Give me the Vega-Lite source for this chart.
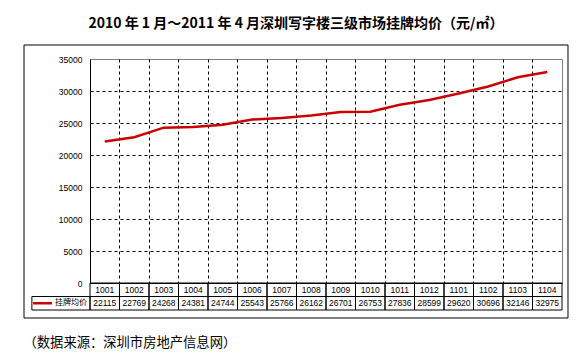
{
  "$schema": "https://vega.github.io/schema/vega-lite/v6.json",
  "padding": {"left": 23, "top": 17, "right": 0, "bottom": 0},
  "background": "#ffffff",
  "title": {
    "text": "2010 年 1 月～2011 年 4 月深圳写字楼三级市场挂牌均价（元/㎡）",
    "font": "Noto Sans CJK SC",
    "fontSize": 14,
    "fontWeight": "bold",
    "color": "#000000",
    "anchor": "middle",
    "offset": 13
  },
  "datasets": {
    "prices": [
      {"month": "1001", "price": 22115},
      {"month": "1002", "price": 22769},
      {"month": "1003", "price": 24268},
      {"month": "1004", "price": 24381},
      {"month": "1005", "price": 24744},
      {"month": "1006", "price": 25543},
      {"month": "1007", "price": 25766},
      {"month": "1008", "price": 26162},
      {"month": "1009", "price": 26701},
      {"month": "1010", "price": 26753},
      {"month": "1011", "price": 27836},
      {"month": "1012", "price": 28599},
      {"month": "1101", "price": 29620},
      {"month": "1102", "price": 30696},
      {"month": "1103", "price": 32146},
      {"month": "1104", "price": 32975}
    ],
    "legend": [{"series": "挂牌均价", "month": "1001"}]
  },
  "spacing": 0,
  "bounds": "flush",
  "resolve": {"scale": {"x": "independent", "y": "independent"}},
  "vconcat": [
    {
      "width": 472,
      "height": 224,
      "view": {"stroke": "#808080", "strokeWidth": 1},
      "encoding": {
        "x": {
          "field": "month",
          "type": "ordinal",
          "scale": {
            "domain": ["1001", "1002", "1003", "1004", "1005", "1006", "1007", "1008", "1009", "1010", "1011", "1012", "1101", "1102", "1103", "1104"],
            "paddingInner": 0,
            "paddingOuter": 0
          },
          "axis": {
            "title": null,
            "labels": false,
            "ticks": false,
            "domain": true,
            "domainColor": "#000000",
            "domainWidth": 1,
            "grid": true,
            "gridColor": "#000000",
            "gridDash": [3, 3],
            "gridWidth": 1,
            "bandPosition": 0,
            "values": ["1002", "1003", "1004", "1005", "1006", "1007", "1008", "1009", "1010", "1011", "1012", "1101", "1102", "1103", "1104"]
          }
        }
      },
      "layer": [
        {
          "data": {"name": "prices"},
          "mark": {"type": "line", "color": "#cc0000", "strokeWidth": 2.5},
          "encoding": {
            "y": {
              "field": "price",
              "type": "quantitative",
              "scale": {"domain": [0, 35000], "nice": false},
              "axis": {
                "title": null,
                "values": [0, 5000, 10000, 15000, 20000, 25000, 30000, 35000],
                "format": "d",
                "ticks": false,
                "labelPadding": 8,
                "labelFont": "Liberation Sans",
                "labelFontSize": 8.5,
                "labelColor": "#000000",
                "domainColor": "#000000",
                "domainWidth": 1,
                "grid": true,
                "gridColor": "#000000",
                "gridDash": [3, 3],
                "gridWidth": 1,
                "gridOpacity": {"condition": {"test": "datum.value == 0 || datum.value == 35000", "value": 0}, "value": 1}
              }
            }
          }
        },
        {
          "data": {"name": "legend"},
          "mark": {"type": "rect", "fill": "transparent", "stroke": "#000000", "strokeWidth": 1},
          "encoding": {
            "x": {"datum": "1001", "type": "ordinal", "bandPosition": -2.237},
            "x2": {"datum": "1104", "bandPosition": 1.203},
            "y": {
              "datum": 37187,
              "type": "quantitative",
              "scale": {"domain": [0, 35000], "nice": false},
              "axis": {
                "title": null,
                "values": [0, 5000, 10000, 15000, 20000, 25000, 30000, 35000],
                "format": "d",
                "ticks": false,
                "labelPadding": 8,
                "labelFont": "Liberation Sans",
                "labelFontSize": 8.5,
                "labelColor": "#000000",
                "domainColor": "#000000",
                "domainWidth": 1,
                "grid": true,
                "gridColor": "#000000",
                "gridDash": [3, 3],
                "gridWidth": 1,
                "gridOpacity": {"condition": {"test": "datum.value == 0 || datum.value == 35000", "value": 0}, "value": 1}
              }
            },
            "y2": {"datum": -5469}
          }
        }
      ]
    },
    {
      "width": 472,
      "height": 27,
      "view": {"stroke": null},
      "encoding": {
        "x": {
          "field": "month",
          "type": "ordinal",
          "scale": {
            "domain": ["1001", "1002", "1003", "1004", "1005", "1006", "1007", "1008", "1009", "1010", "1011", "1012", "1101", "1102", "1103", "1104"],
            "paddingInner": 0,
            "paddingOuter": 0
          },
          "axis": {
            "title": "（数据来源：深圳市房地产信息网）",
            "titleFont": "Noto Sans CJK SC",
            "titleFontSize": 13.3,
            "titleFontWeight": "normal",
            "titleColor": "#000000",
            "titleAnchor": "start",
            "titleAlign": "left",
            "titleX": -67,
            "titlePadding": 25,
            "labels": false,
            "ticks": false,
            "domain": false,
            "grid": false
          }
        }
      },
      "layer": [
        {
          "data": {"name": "prices"},
          "mark": {"type": "rect", "fill": "transparent", "stroke": "#000000", "strokeWidth": 1},
          "encoding": {
            "y": {"datum": "m", "type": "ordinal", "scale": {"domain": ["m", "v"], "paddingInner": 0, "paddingOuter": 0}, "axis": null}
          }
        },
        {
          "data": {"name": "prices"},
          "mark": {"type": "rect", "fill": "transparent", "stroke": "#000000", "strokeWidth": 1},
          "encoding": {
            "y": {"datum": "v", "type": "ordinal"}
          }
        },
        {
          "data": {"name": "prices"},
          "mark": {"type": "text", "font": "Liberation Sans", "fontSize": 8.5, "color": "#000000"},
          "encoding": {
            "y": {"datum": "m", "type": "ordinal"},
            "text": {"field": "month"}
          }
        },
        {
          "data": {"name": "prices"},
          "mark": {"type": "text", "font": "Liberation Sans", "fontSize": 8.5, "color": "#000000"},
          "encoding": {
            "y": {"datum": "v", "type": "ordinal"},
            "text": {"field": "price", "type": "quantitative", "format": "d"}
          }
        },
        {
          "data": {"name": "legend"},
          "mark": {"type": "rect", "fill": "transparent", "stroke": "#000000", "strokeWidth": 1},
          "encoding": {
            "x": {"field": "month", "type": "ordinal", "bandPosition": -1.97},
            "x2": {"field": "month", "bandPosition": 0},
            "y": {"datum": "v", "type": "ordinal"}
          }
        },
        {
          "data": {"name": "legend"},
          "mark": {"type": "rule", "color": "#cc0000", "strokeWidth": 2.5},
          "encoding": {
            "x": {"field": "month", "type": "ordinal", "bandPosition": -1.93},
            "x2": {"field": "month", "bandPosition": -1.29},
            "y": {"datum": "v", "type": "ordinal"}
          }
        },
        {
          "data": {"name": "legend"},
          "mark": {"type": "text", "font": "Noto Sans CJK SC", "fontSize": 8, "align": "right", "color": "#000000"},
          "encoding": {
            "x": {"field": "month", "type": "ordinal", "bandPosition": -0.1},
            "y": {"datum": "v", "type": "ordinal"},
            "text": {"field": "series"}
          }
        }
      ]
    }
  ]
}
